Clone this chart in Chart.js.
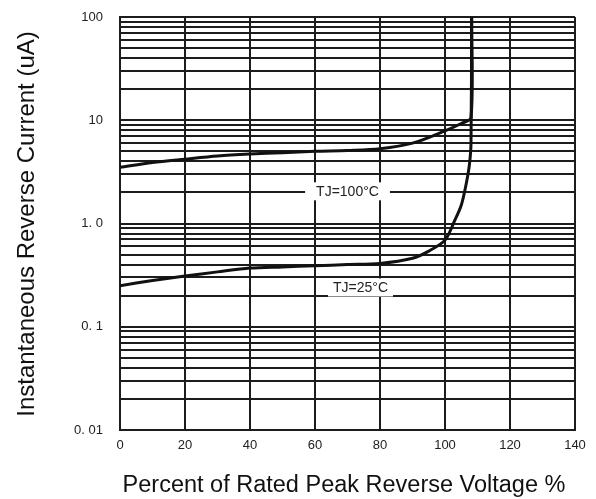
<!DOCTYPE html>
<html>
<head>
<meta charset="utf-8">
<script src="https://cdn.jsdelivr.net/npm/chart.js@4"></script>
<style>
  html, body { margin: 0; padding: 0; background: #fff; }
  #wrap { width: 596px; height: 499px; }
</style>
</head>
<body>
<div id="wrap"><canvas id="chart" width="596" height="499"></canvas></div>
<script>
// percent of rated peak reverse voltage
const x100 = [0, 10, 20, 30, 40, 50, 60, 70, 80, 90, 100, 105, 108, 108.2];
const y100 = [3.5, 3.9, 4.2, 4.5, 4.7, 4.85, 5.0, 5.1, 5.3, 6.0, 7.9, 9.3, 10.6, 100];

const x25 = [0, 10, 20, 30, 40, 50, 60, 70, 80, 90, 95, 100, 103, 105, 106.5, 107.5, 108, 108.2];
const y25 = [0.25, 0.28, 0.31, 0.34, 0.37, 0.38, 0.39, 0.40, 0.41, 0.46, 0.54, 0.69, 1.07, 1.5, 2.4, 3.7, 6.0, 100];

const xTicks = [0, 20, 40, 60, 80, 100, 120, 140];
const yDecades = [0.01, 0.1, 1, 10, 100];
const yDecadeLabels = ["0. 01", "0. 1", "1. 0", "10", "100"];

const curveLabels = [
  { text: "TJ=100°C", x: 70, y: 2.05, pad: 11 },
  { text: "TJ=25°C", x: 74, y: 0.24, pad: 5 },
];

const gridColor = "#1c1c1c";
const tickFont = { family: "'Liberation Sans', Arial, sans-serif", size: 13 };

function toPoints(xs, ys) {
  return xs.map((x, i) => ({ x, y: ys[i] }));
}

// every 1..9 step of each decade, plus the top value
function logGrid() {
  const vals = [];
  for (let i = 0; i < yDecades.length - 1; i++) {
    for (let k = 1; k <= 9; k++) vals.push(yDecades[i] * k);
  }
  vals.push(yDecades[yDecades.length - 1]);
  return vals;
}

/* =========================
   LABELS & AXIS TITLES
========================= */
const decorPlugin = {
  id: "decor",
  afterDatasetsDraw(chart) {
    const { ctx, scales } = chart;
    ctx.save();
    ctx.font = "14px 'Liberation Sans', Arial, sans-serif";
    ctx.textAlign = "center";
    ctx.textBaseline = "middle";
    curveLabels.forEach((l) => {
      const px = scales.x.getPixelForValue(l.x);
      const py = scales.y.getPixelForValue(l.y);
      const w = ctx.measureText(l.text).width + l.pad * 2;
      ctx.fillStyle = "#fff";
      ctx.fillRect(px - w / 2, py - 9, w, 18);
      ctx.fillStyle = "#222";
      ctx.fillText(l.text, px, py + 1);
    });
    ctx.restore();
  },
  afterDraw(chart) {
    const { ctx } = chart;
    ctx.save();
    ctx.fillStyle = "#111";
    ctx.font = "23.5px 'Liberation Sans', Arial, sans-serif";
    ctx.textAlign = "center";
    ctx.textBaseline = "middle";
    ctx.fillText("Percent of Rated Peak Reverse Voltage %", 344, 486);
    ctx.font = "24px 'Liberation Sans', Arial, sans-serif";
    ctx.translate(27, 224);
    ctx.rotate(-Math.PI / 2);
    ctx.fillText("Instantaneous Reverse Current (uA)", 0, 0);
    ctx.restore();
  },
};

const chart = new Chart(document.getElementById("chart"), {
  type: "line",
  data: {
    datasets: [
      {
        label: "TJ=100°C",
        data: toPoints(x100, y100),
        borderColor: "#111",
        borderWidth: 3,
        pointRadius: 0,
        tension: 0.3,
      },
      {
        label: "TJ=25°C",
        data: toPoints(x25, y25),
        borderColor: "#111",
        borderWidth: 3,
        pointRadius: 0,
        tension: 0.3,
      },
    ],
  },
  options: {
    responsive: false,
    animation: false,
    layout: { padding: { left: 0, right: 21, top: 17, bottom: 0 } },
    plugins: {
      legend: { display: false },
      tooltip: { enabled: false },
    },
    scales: {
      x: {
        type: "linear",
        min: 0,
        max: 140,
        afterBuildTicks: (s) => {
          s.ticks = xTicks.map((v) => ({ value: v }));
        },
        afterFit: (s) => {
          s.height = 69;
          s.paddingLeft = 0;
          s.paddingRight = 0;
        },
        grid: { color: gridColor, lineWidth: 2, drawTicks: false },
        border: { color: gridColor, width: 2 },
        ticks: { color: "#222", font: tickFont, padding: 8, maxRotation: 0 },
      },
      y: {
        type: "logarithmic",
        min: 0.01,
        max: 100,
        afterBuildTicks: (s) => {
          s.ticks = logGrid().map((v) => ({ value: v }));
        },
        afterFit: (s) => {
          s.width = 120;
          s.paddingTop = 0;
          s.paddingBottom = 0;
        },
        grid: { color: gridColor, lineWidth: 2, drawTicks: false },
        border: { color: gridColor, width: 2 },
        ticks: {
          color: "#222",
          font: tickFont,
          padding: 17,
          autoSkip: false,
          callback: (v) => {
            const i = yDecades.findIndex((d) => Math.abs(d - v) / d < 1e-6);
            return i >= 0 ? yDecadeLabels[i] : "";
          },
        },
      },
    },
  },
  plugins: [decorPlugin],
});
</script>
</body>
</html>
